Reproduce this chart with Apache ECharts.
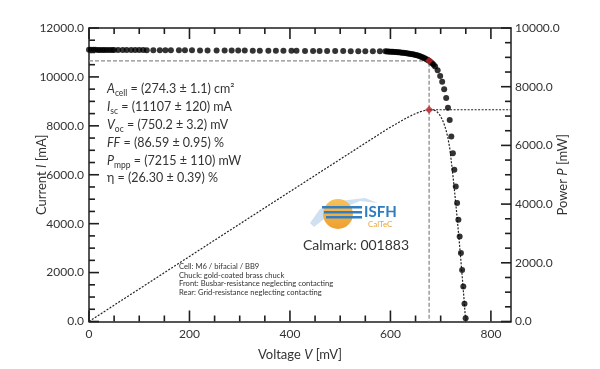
<!DOCTYPE html>
<html>
<head>
<meta charset="utf-8">
<script src="https://cdn.jsdelivr.net/npm/echarts@6/dist/echarts.min.js"></script>
<style>
html,body{margin:0;padding:0;background:#fff;}
#chart{width:600px;height:369px;}
</style>
</head>
<body>
<div id="chart"></div>
<script>
// ---- data ----
const ivVoltage = [0,4,9,13,18,22,27,31,36,41,46,50,58,67,75,84,92,100,108,115,128,141,152,163,179,191,205,221,236,254,270,284,297,310,326,340,357,372,387,403,413,430,446,459,474,490,506,521,536,550,565,579,590,
593,596,599,602,605,608,611,614,617,620,623,626,629,632,635,638,641,644,647,650,653,656,659,662,665,668,671,674,677,680,683,686,
689,694,699,703,707,711,714.5,718,721.2,724.3,727.2,730,732.7,735.3,737.8,740.3,742.7,745.1,747.4,749.7];
const ivCurrent = [11107,11107,11106,11106,11105,11105,11104,11104,11103,11103,11102,11102,11101,11100,11099,11099,11098,11097,11096,11095,11094,11093,11092,11091,11089,11088,11086,11085,11083,11082,11080,11079,11077,11076,11074,11073,11071,11069,11068,11066,11065,11063,11061,11060,11058,11056,11055,11053,11051,11050,11048,11046,11045,
11042,11038,11034,11030,11026,11021,11016,11011,11005,10999,10993,10986,10978,10970,10961,10951,10940,10928,10914,10899,10882,10863,10841,10817,10791,10762,10730,10695,10657,10612,10560,10500,
10430,10270,10040,9800,9500,9140,8740,8240,7560,6880,6200,5520,4840,4160,3480,2800,2110,1430,730,130];
const powerVoltage = [0,100,200,300,400,500,550,590,610,620,630,640,650,655,660,664,668,672,677,680,683,686,689,692,694,697,699,701,703,705,707,709,711,713,714.5,716,718,719.6,721.2,722.8,724.3,725.8,727.2,728.6,730,731.4,732.7,734,735.3,736.6,737.8,739,740.3,741.5,742.7,743.9,745.1,746.3,747.4,748.6,750.2];
const powerValue = [0,1110,2217,3323,4426,5528,6078,6517,6718,6819,6914,7004,7084,7117,7151,7172,7189,7205,7215,7216,7212,7203,7186,7158,7127,7068,7018,6960,6889,6809,6717,6614,6499,6363,6245,6102,5916,5696,5452,5220,4983,4748,4509,4270,4030,3788,3546,3303,3059,2810,2568,2322,2073,1820,1567,1317,1066,805,546,270,0];
const mppVoltage = 677;
const mppCurrent = 10657;
const mppPower = 7215;
const xTickLabels = [0,200,400,600,800];
const yLeftTickLabels = [0,2000,4000,6000,8000,10000,12000];
const yRightTickLabels = [0,2000,4000,6000,8000,10000];
const resultLines = [
  '{i|A}{s|cell} = (274.3 ± 1.1) cm²',
  '{i|I}{s|sc} = (11107 ± 120) mA',
  '{i|V}{s|oc} = (750.2 ± 3.2) mV',
  '{i|FF} = (86.59 ± 0.95) %',
  '{i|P}{s|mpp} = (7215 ± 110) mW',
  'η = (26.30 ± 0.39) %'
];
const noteLines = [
  'Cell: M6 / bifacial / BB9',
  'Chuck: gold-coated brass chuck',
  'Front: Busbar-resistance neglecting contacting',
  'Rear: Grid-resistance neglecting contacting'
];
const calmark = 'Calmark: 001883';

// ---- chart ----
const FONT = 'Lato';
const TXT = '#333';
const AX = '#1e1e1e';
const xMin = xTickLabels[0], xMax = 840, xStep = xTickLabels[1]-xTickLabels[0];
const yLMax = yLeftTickLabels[yLeftTickLabels.length-1], yRMax = yRightTickLabels[yRightTickLabels.length-1];
const yLStep = yLeftTickLabels[1], yRStep = yRightTickLabels[1];

// tick values (major every label step, minor every quarter step), drawn through the axes' scales
function tickList(max, step, majorLen, minorLen){
  const out = [];
  for (let v = 0; v <= max + 1e-9; v += step/4) {
    const isMajor = Math.abs(v/step - Math.round(v/step)) < 1e-9;
    out.push([v, isMajor ? majorLen : minorLen]);
  }
  return out;
}
const xTicks = tickList(xTickLabels[xTickLabels.length-1], xStep, 11, 6).map(t=>[0, t[0], t[1]]);
const yLTicks = tickList(yLMax, yLStep, 10, 6).map(t=>[1, t[0], t[1]]);
const yRTicks = tickList(yRMax, yRStep, 10, 6).map(t=>[2, t[0], t[1]]);

function renderTick(params, api){
  const kind = api.value(0), v = api.value(1), len = api.value(2);
  const st = {stroke:AX, lineWidth:1.6};
  if (kind === 0) {
    const b = api.coord([v, 0]);
    const t = api.coord([v, yLMax]);
    return {type:'group', children:[
      {type:'line', shape:{x1:b[0], y1:b[1], x2:b[0], y2:b[1]-len}, style:st},
      {type:'line', shape:{x1:t[0], y1:t[1], x2:t[0], y2:t[1]+len}, style:st}
    ]};
  }
  if (kind === 1) {
    const p = api.coord([xMin, v]);
    return {type:'line', shape:{x1:p[0], y1:p[1], x2:p[0]+len, y2:p[1]}, style:st};
  }
  const p = api.coord([xMax, v]);
  return {type:'line', shape:{x1:p[0], y1:p[1], x2:p[0]-len, y2:p[1]}, style:st};
}

const nameStyle = () => ({fontSize:13, color:TXT, fontFamily:FONT, rich:{i:{fontStyle:'italic', fontSize:13, color:TXT, fontFamily:FONT}}});
const axLine = () => ({show:true, onZero:false, lineStyle:{color:AX, width:1.5}});

const chart = echarts.init(document.getElementById('chart'));
chart.setOption({
  animation:false,
  grid:{left:89, right:89, top:28, bottom:47.5},
  xAxis:[
    {type:'value', position:'bottom', min:xMin, max:xMax, interval:xStep,
     axisLine:axLine(), axisTick:{show:false},
     axisLabel:{showMaxLabel:false, margin:7, fontSize:12, color:TXT, fontFamily:FONT},
     splitLine:{show:false},
     name:'Voltage {i|V} [mV]', nameLocation:'middle', nameGap:27, nameMoveOverlap:false,
     nameTextStyle:nameStyle()},
    {type:'value', position:'top', min:xMin, max:xMax, interval:xStep,
     axisLine:axLine(), axisTick:{show:false},
     axisLabel:{show:false}, splitLine:{show:false}}
  ],
  yAxis:[
    {type:'value', position:'left', min:0, max:yLMax, interval:yLStep,
     axisLine:axLine(), axisTick:{show:false},
     axisLabel:{margin:5, fontSize:12, color:TXT, fontFamily:FONT, formatter:v=>v.toFixed(1)},
     splitLine:{show:false},
     name:'Current {i|I} [mA]', nameLocation:'middle', nameGap:41, nameRotate:90, nameMoveOverlap:false,
     nameTextStyle:nameStyle()},
    {type:'value', position:'right', min:0, max:yRMax, interval:yRStep,
     axisLine:axLine(), axisTick:{show:false},
     axisLabel:{margin:4, fontSize:12, color:TXT, fontFamily:FONT, formatter:v=>v.toFixed(1)},
     splitLine:{show:false},
     name:'Power {i|P} [mW]', nameLocation:'middle', nameGap:45, nameRotate:90, nameMoveOverlap:false,
     nameTextStyle:nameStyle()}
  ],
  series:[
    {type:'custom', xAxisIndex:0, yAxisIndex:0, silent:true, clip:false, z:5,
     renderItem:renderTick, data:xTicks.concat(yLTicks)},
    {type:'custom', xAxisIndex:0, yAxisIndex:1, silent:true, clip:false, z:5,
     renderItem:renderTick, data:yRTicks},
    {type:'line', xAxisIndex:0, yAxisIndex:0, symbol:'none', silent:true, z:1,
     data:[[0,mppCurrent],[mppVoltage,mppCurrent],[mppVoltage,0]],
     lineStyle:{type:[4,2], color:'#8c8c8c', width:1.3}},
    {type:'line', xAxisIndex:0, yAxisIndex:1, symbol:'none', silent:true, z:2,
     data:powerVoltage.map((v,i)=>[v, powerValue[i]]),
     lineStyle:{type:[2,1.5], color:'#222', width:1.2}},
    {type:'line', xAxisIndex:0, yAxisIndex:1, symbol:'none', silent:true, z:2,
     data:[[mppVoltage,mppPower],[xMax,mppPower]],
     lineStyle:{type:[2,1.5], color:'#222', width:1.2}},
    {type:'scatter', xAxisIndex:0, yAxisIndex:0, symbol:'circle', symbolSize:6, z:3,
     data:ivVoltage.map((v,i)=>[v, ivCurrent[i]]),
     itemStyle:{color:'#000'}},
    {type:'scatter', xAxisIndex:0, yAxisIndex:0, symbol:'diamond', symbolSize:8, z:4,
     data:[[mppVoltage,mppCurrent]], itemStyle:{color:'#c1272d'}},
    {type:'scatter', xAxisIndex:0, yAxisIndex:1, symbol:'diamond', symbolSize:8, z:4,
     data:[[mppVoltage,mppPower]], itemStyle:{color:'#c1272d'}}
  ],
  graphic:[
    {type:'text', left:107, top:80, z:10, style:{
      text:resultLines.join('\n'), fill:TXT, font:'12.5px Lato', lineHeight:17.9,
      rich:{
        i:{fontStyle:'italic', fontSize:12.5, fontFamily:FONT, fill:TXT, lineHeight:17.9},
        s:{fontSize:8.5, fontFamily:FONT, fill:TXT, lineHeight:9, verticalAlign:'bottom'}
      }}},
    {type:'text', left:179, top:262, z:10, style:{
      text:noteLines.join('\n'), fill:TXT, font:'7.6px Lato', lineHeight:8.7}},
    {type:'group', left:310, top:198, z:5, children:[
      {type:'polygon', shape:{points:[[0,28],[10,14],[30,6],[55,3],[68,8],[50,6],[30,14],[14,24],[4,32]]},
       style:{fill:'#b9d3ec', opacity:0.7}},
      {type:'circle', shape:{cx:28, cy:19, r:15},
       style:{fill:new echarts.graphic.LinearGradient(0,0,0,1,[{offset:0,color:'#f8c15a'},{offset:1,color:'#ef9f2f'}])}},
      {type:'rect', shape:{x:12, y:11, width:40, height:2.6}, style:{fill:'#2f7fc1'}},
      {type:'rect', shape:{x:14, y:16, width:38, height:2.6}, style:{fill:'#2f7fc1'}},
      {type:'rect', shape:{x:16, y:21, width:36, height:2.6}, style:{fill:'#2f7fc1'}},
      {type:'text', x:54, y:10, style:{text:'ISFH', font:'bold 15px Lato', fill:'#2d7cbf'}},
      {type:'text', x:58, y:25, style:{text:'CalTeC', font:'8px Lato', fill:'#e6a63c'}}
    ]},
    {type:'text', left:303, top:238, z:10, style:{text:calmark, font:'14px Lato', fill:TXT}}
  ]
});
</script>
</body>
</html>
